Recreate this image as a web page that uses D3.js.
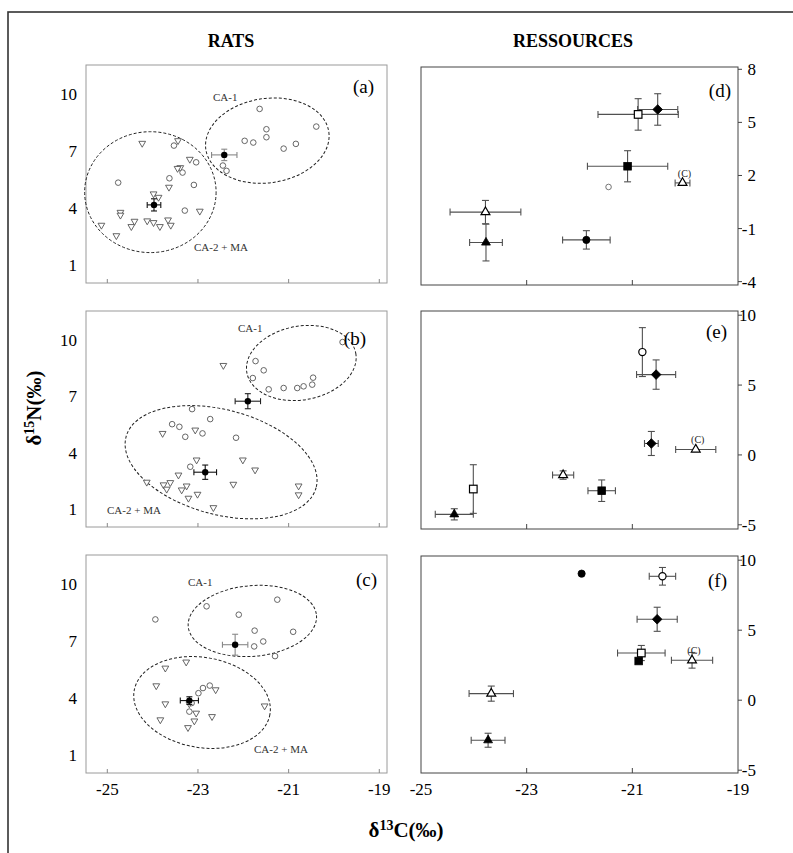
<!DOCTYPE html>
<html>
<head>
<meta charset="utf-8">
<script src="https://cdn.jsdelivr.net/npm/d3@7/dist/d3.min.js"></script>
<style>
  body { margin: 0; background: #fff; }
  svg, svg text { font-family: "Liberation Serif", "DejaVu Serif", "Times New Roman", serif; }
</style>
</head>
<body>
<svg id="chart" width="793" height="853" font-family="Liberation Serif, DejaVu Serif, serif"></svg>
<script>
'use strict';

// ---- data ----
// rats: [d13C, d15N]
const ratsA_circles = [[-24.76,5.33],[-23.53,7.28],[-23.63,5.56],[-23.34,5.86],[-23.04,6.40],[-23.09,5.21],[-23.29,3.86],
  [-22.45,6.23],[-22.37,5.95],[-21.97,7.53],[-21.78,7.44],[-21.64,9.21],[-21.49,8.14],[-21.49,7.72],[-21.11,7.12],[-20.84,7.37],[-20.39,8.28]];
const ratsA_triangles = [[-23.44,7.54],[-23.39,6.12],[-23.45,6.08],[-23.18,6.56],[-24.23,7.40],[-23.64,5.09],[-23.98,4.74],[-23.87,4.56],
  [-24.71,3.77],[-24.71,3.62],[-25.13,3.09],[-24.80,2.54],[-24.47,3.02],[-24.40,3.30],[-24.12,3.32],[-23.98,3.23],[-23.84,3.02],
  [-23.66,3.37],[-23.60,3.09],[-22.96,3.83]];
const ratsA_means = [{x: -22.42, y: 6.79, ex: 0.28, ey: 0.30}, {x: -23.97, y: 4.16, ex: 0.15, ey: 0.32}];

const ratsB_circles = [[-19.81,9.87],[-21.73,8.86],[-21.55,8.37],[-21.79,7.96],[-21.44,7.36],[-21.11,7.43],[-20.81,7.43],[-20.67,7.52],
  [-20.48,7.61],[-20.46,7.98],[-23.13,6.31],[-22.73,5.78],[-23.57,5.51],[-23.41,5.37],[-23.28,4.84],[-22.90,5.02],[-22.16,4.79],[-23.17,3.25]];
const ratsB_triangles = [[-22.44,8.63],[-23.78,5.02],[-23.06,5.20],[-23.03,3.61],[-22.01,3.61],[-21.74,3.08],[-23.43,2.81],[-24.13,2.43],
  [-23.76,2.29],[-23.69,2.06],[-23.61,2.41],[-23.36,2.02],[-23.25,2.23],[-23.21,1.58],[-23.01,1.79],[-22.66,1.08],[-22.22,2.32],
  [-20.78,2.23],[-20.78,1.76]];
const ratsB_means = [{x: -21.90, y: 6.73, ex: 0.28, ey: 0.40}, {x: -22.84, y: 2.96, ex: 0.25, ey: 0.38}];

const ratsC_circles = [[-23.94,8.13],[-22.81,8.82],[-22.10,8.38],[-21.25,9.17],[-21.75,7.54],[-20.90,7.48],[-21.56,6.97],[-21.76,6.71],
  [-21.30,6.20],[-22.74,4.65],[-22.89,4.52],[-22.99,4.25],[-23.19,3.28],[-23.14,3.73]];
const ratsC_triangles = [[-23.26,5.89],[-23.72,5.57],[-23.92,4.64],[-22.61,4.43],[-23.72,3.69],[-23.19,3.69],[-23.04,3.20],[-22.69,3.02],
  [-23.83,2.85],[-23.08,2.79],[-23.22,2.44],[-21.53,3.58]];
const ratsC_means = [{x: -22.18, y: 6.80, ex: 0.28, ey: 0.55}, {x: -23.19, y: 3.86, ex: 0.20, ey: 0.20}];

// group ellipses: centre and radii in data units, tilt in degrees
const ellipsesA = [{name: 'CA-1', cx: -21.47, cy: 7.54, rx: 1.37, ry: 2.22, tilt: -8}, {name: 'CA-2 + MA', cx: -24.05, cy: 4.83, rx: 1.45, ry: 3.18, tilt: 0}];
const ellipsesB = [{name: 'CA-1', cx: -20.72, cy: 8.76, rx: 1.22, ry: 1.96, tilt: -10}, {name: 'CA-2 + MA', cx: -22.49, cy: 3.49, rx: 2.17, ry: 2.78, tilt: 15}];
const ellipsesC = [{name: 'CA-1', cx: -21.80, cy: 8.05, rx: 1.42, ry: 1.86, tilt: -5}, {name: 'CA-2 + MA', cx: -22.91, cy: 3.76, rx: 1.52, ry: 2.37, tilt: 10}];

// resources: mean ± error
const resD = [
  {k: 'filledDiamond', x: -20.52, y: 5.73, ex: 0.38, ey: 0.89},
  {k: 'openSquare', x: -20.89, y: 5.45, ex: 0.76, ey: 0.89},
  {k: 'filledSquare', x: -21.09, y: 2.52, ex: 0.76, ey: 0.88},
  {k: 'smallCircle', x: -21.45, y: 1.35, ex: 0, ey: 0},
  {k: 'openTriangle', x: -20.05, y: 1.58, ex: 0.14, ey: 0, label: '(C)'},
  {k: 'openTriangle', x: -23.78, y: -0.07, ex: 0.67, ey: 0.66},
  {k: 'filledTriangle', x: -23.77, y: -1.79, ex: 0.31, ey: 1.04},
  {k: 'filledCircle', x: -21.87, y: -1.64, ex: 0.45, ey: 0.52}
];
const resE = [
  {k: 'openCircle', x: -20.81, y: 7.36, ex: 0, ey: 1.75},
  {k: 'filledDiamond', x: -20.55, y: 5.75, ex: 0.37, ey: 1.05},
  {k: 'filledDiamond', x: -20.64, y: 0.82, ex: 0.13, ey: 0.86},
  {k: 'openTriangle', x: -19.80, y: 0.39, ex: 0.38, ey: 0, label: '(C)'},
  {k: 'openTriangle', x: -22.31, y: -1.44, ex: 0.20, ey: 0.30},
  {k: 'filledSquare', x: -21.58, y: -2.56, ex: 0.26, ey: 0.77},
  {k: 'openSquare', x: -24.01, y: -2.44, ex: 0, ey: 1.74},
  {k: 'filledTriangle', x: -24.37, y: -4.25, ex: 0.36, ey: 0.40}
];
const resF = [
  {k: 'filledCircle', x: -21.96, y: 9.04, ex: 0, ey: 0},
  {k: 'openCircle', x: -20.43, y: 8.85, ex: 0.25, ey: 0.63},
  {k: 'filledDiamond', x: -20.53, y: 5.78, ex: 0.38, ey: 0.86},
  {k: 'openSquare', x: -20.83, y: 3.37, ex: 0.45, ey: 0.54},
  {k: 'filledSquare', x: -20.88, y: 2.80, ex: 0, ey: 0},
  {k: 'openTriangle', x: -19.87, y: 2.85, ex: 0.39, ey: 0.56, label: '(C)'},
  {k: 'openTriangle', x: -23.67, y: 0.47, ex: 0.42, ey: 0.54},
  {k: 'filledTriangle', x: -23.73, y: -2.86, ex: 0.32, ey: 0.50}
];

const xTicks = [-25, -23, -21, -19];
const ratYTicks = [1, 4, 7, 10];
const resYTicksD = [8, 5, 2, -1, -4];
const resYTicksEF = [10, 5, 0, -5];

// ---- drawing ----
const svg = d3.select('#chart');

svg.append('rect')
    .attr('x', 8).attr('y', 12)
    .attr('width', 800).attr('height', 860)
    .style('fill', 'none')
    .style('stroke', '#333')
    .style('stroke-width', 1.6);

svg.append('text').attr('x', 231).attr('y', 47).attr('text-anchor', 'middle')
    .style('font-weight', 'bold').style('font-size', '18px').text('RATS');
svg.append('text').attr('x', 573).attr('y', 47).attr('text-anchor', 'middle')
    .style('font-weight', 'bold').style('font-size', '18px').text('RESSOURCES');

const yLab = svg.append('text')
    .attr('transform', 'translate(41, 408) rotate(-90)')
    .attr('text-anchor', 'middle')
    .style('font-weight', 'bold').style('font-size', '21px');
yLab.append('tspan').text('δ');
yLab.append('tspan').attr('dy', -7).style('font-size', '14px').text('15');
yLab.append('tspan').attr('dy', 7).text('N(‰)');

const xLab = svg.append('text')
    .attr('x', 406).attr('y', 837)
    .attr('text-anchor', 'middle')
    .style('font-weight', 'bold').style('font-size', '21px');
xLab.append('tspan').text('δ');
xLab.append('tspan').attr('dy', -7).style('font-size', '14px').text('13');
xLab.append('tspan').attr('dy', 7).text('C(‰)');

const symTri = d3.symbol().type(d3.symbolTriangle);

function frame(g, x0, x1, y0, y1, color) {
  g.append('rect')
      .attr('x', x0).attr('y', y0)
      .attr('width', x1 - x0).attr('height', y1 - y0)
      .style('fill', 'none')
      .style('stroke', color)
      .style('stroke-width', 1);
}

function errorBars(g, list, x, y, color, cap) {
  list.forEach(d => {
    if (d.ex > 0) {
      g.append('line').attr('x1', x(d.x - d.ex)).attr('x2', x(d.x + d.ex)).attr('y1', y(d.y)).attr('y2', y(d.y));
      [d.x - d.ex, d.x + d.ex].forEach(v => g.append('line')
          .attr('x1', x(v)).attr('x2', x(v)).attr('y1', y(d.y) - cap).attr('y2', y(d.y) + cap));
    }
    if (d.ey > 0) {
      g.append('line').attr('x1', x(d.x)).attr('x2', x(d.x)).attr('y1', y(d.y - d.ey)).attr('y2', y(d.y + d.ey));
      [d.y - d.ey, d.y + d.ey].forEach(v => g.append('line')
          .attr('x1', x(d.x) - cap).attr('x2', x(d.x) + cap).attr('y1', y(v)).attr('y2', y(v)));
    }
  });
  g.selectAll('line').style('stroke', color).style('stroke-width', 1.1);
}

function ratPanel(p) {
  const g = svg.append('g');
  const x = d3.scaleLinear().domain([-25.47, -18.83]).range([86, 387]);
  const y = d3.scaleLinear().domain([0.05, 11.52]).range([p.y1, p.y0]);

  frame(g, 86, 387, p.y0, p.y1, '#9a9a9a');

  g.selectAll('.xt').data(xTicks).enter().append('line')
      .attr('x1', d => x(d)).attr('x2', d => x(d))
      .attr('y1', p.y1).attr('y2', p.y1 - 4)
      .style('stroke', '#888');

  g.selectAll('.yl').data(ratYTicks).enter().append('text')
      .attr('x', 77).attr('y', d => y(d) + 6)
      .attr('text-anchor', 'end')
      .style('font-size', '17px')
      .text(d => d);

  if (p.xLabels) {
    g.selectAll('.xl').data(xTicks).enter().append('text')
        .attr('x', d => x(d)).attr('y', p.y1 + 22)
        .attr('text-anchor', 'middle')
        .style('font-size', '17px')
        .text(d => d);
  }

  p.ellipses.forEach(e => {
    g.append('ellipse')
        .attr('cx', 0).attr('cy', 0)
        .attr('rx', x(e.cx + e.rx) - x(e.cx))
        .attr('ry', y(e.cy) - y(e.cy + e.ry))
        .attr('transform', `translate(${x(e.cx)}, ${y(e.cy)}) rotate(${e.tilt})`)
        .style('fill', 'none')
        .style('stroke', '#222')
        .style('stroke-width', 1)
        .style('stroke-dasharray', '3,2');
  });

  g.selectAll('.tri').data(p.triangles).enter().append('path')
      .attr('d', symTri.size(20)())
      .attr('transform', d => `translate(${x(d[0])}, ${y(d[1])}) rotate(180)`)
      .style('fill', '#fff')
      .style('stroke', '#555')
      .style('stroke-width', 0.9);

  g.selectAll('.circ').data(p.circles).enter().append('circle')
      .attr('cx', d => x(d[0])).attr('cy', d => y(d[1]))
      .attr('r', 2.8)
      .style('fill', '#fff')
      .style('stroke', '#555')
      .style('stroke-width', 0.9);

  p.means.forEach((m, i) => {
    errorBars(g.append('g'), [m], x, y, i === 0 ? p.ca1Color : '#111', 3);
    g.append('circle')
        .attr('cx', x(m.x)).attr('cy', y(m.y))
        .attr('r', 3.2)
        .style('fill', '#000');
  });

  p.labels.forEach(l => {
    g.append('text')
        .attr('x', l.x).attr('y', l.y)
        .style('font-size', '11px')
        .style('fill', '#333')
        .text(l.t);
  });

  g.append('text')
      .attr('x', p.tagX).attr('y', p.tagY)
      .attr('text-anchor', 'end')
      .style('font-size', '19px')
      .text(p.tag);
}

function resPanel(p) {
  const g = svg.append('g');
  const x = d3.scaleLinear().domain([-25, -19]).range([421, 738]);
  const y = d3.scaleLinear().domain(p.yDomain).range([p.y1, p.y0]);

  frame(g, 421, 738, p.y0, p.y1, '#444');

  g.selectAll('.xt').data([-23, -21]).enter().append('line')
      .attr('x1', d => x(d)).attr('x2', d => x(d))
      .attr('y1', p.y1).attr('y2', p.y1 - 5)
      .style('stroke', '#444');

  g.selectAll('.yt').data(p.yTicks).enter().append('line')
      .attr('x1', 738).attr('x2', 742)
      .attr('y1', d => y(d)).attr('y2', d => y(d))
      .style('stroke', '#444');

  g.selectAll('.yl').data(p.yTicks).enter().append('text')
      .attr('x', 756).attr('y', d => y(d) + 6)
      .attr('text-anchor', 'end')
      .style('font-size', '17px')
      .text(d => d);

  if (p.xLabels) {
    g.selectAll('.xl').data(xTicks).enter().append('text')
        .attr('x', d => x(d)).attr('y', p.y1 + 22)
        .attr('text-anchor', 'middle')
        .style('font-size', '17px')
        .text(d => d);
  }

  errorBars(g.append('g'), p.data, x, y, '#505050', 3.5);

  p.data.forEach(d => {
    const cx = x(d.x), cy = y(d.y);
    const open = d.k.startsWith('open');
    let m;
    if (d.k === 'smallCircle') {
      m = g.append('circle').attr('cx', cx).attr('cy', cy).attr('r', 2.8);
    } else if (d.k.endsWith('Circle')) {
      m = g.append('circle').attr('cx', cx).attr('cy', cy).attr('r', 3.6);
    } else if (d.k.endsWith('Square')) {
      m = g.append('rect').attr('x', cx - 3.8).attr('y', cy - 3.8).attr('width', 7.6).attr('height', 7.6);
    } else if (d.k.endsWith('Diamond')) {
      m = g.append('rect').attr('x', -3.4).attr('y', -3.4).attr('width', 6.8).attr('height', 6.8)
          .attr('transform', `translate(${cx}, ${cy}) rotate(45)`);
    } else {
      m = g.append('path').attr('d', symTri.size(34)())
          .attr('transform', `translate(${cx}, ${cy})`);
    }
    m.style('fill', open || d.k === 'smallCircle' ? '#fff' : '#000')
        .style('stroke', d.k === 'smallCircle' ? '#555' : '#000')
        .style('stroke-width', open ? 1.2 : 0.8);
    if (d.label) {
      g.append('text')
          .attr('x', cx + 2).attr('y', cy - 6)
          .attr('text-anchor', 'middle')
          .style('font-size', '10px')
          .style('fill', '#222')
          .text(d.label);
    }
  });

  g.append('text')
      .attr('x', p.tagX).attr('y', p.tagY)
      .attr('text-anchor', 'end')
      .style('font-size', '19px')
      .text(p.tag);
}

ratPanel({y0: 65, y1: 283, circles: ratsA_circles, triangles: ratsA_triangles, means: ratsA_means,
  ellipses: ellipsesA, ca1Color: '#888', tag: '(a)', tagX: 374, tagY: 93,
  labels: [{t: 'CA-1', x: 213, y: 101}, {t: 'CA-2 + MA', x: 194, y: 251}]});
ratPanel({y0: 311, y1: 527, circles: ratsB_circles, triangles: ratsB_triangles, means: ratsB_means,
  ellipses: ellipsesB, ca1Color: '#222', tag: '(b)', tagX: 366, tagY: 345,
  labels: [{t: 'CA-1', x: 238, y: 332}, {t: 'CA-2 + MA', x: 107, y: 514}]});
ratPanel({y0: 555, y1: 773, circles: ratsC_circles, triangles: ratsC_triangles, means: ratsC_means,
  ellipses: ellipsesC, ca1Color: '#888', tag: '(c)', tagX: 377, tagY: 586, xLabels: true,
  labels: [{t: 'CA-1', x: 188, y: 586}, {t: 'CA-2 + MA', x: 254, y: 753}]});

resPanel({y0: 67, y1: 285, yDomain: [-4.19, 8.13], yTicks: resYTicksD, data: resD, tag: '(d)', tagX: 731, tagY: 97});
resPanel({y0: 311, y1: 529, yDomain: [-5.3, 10.3], yTicks: resYTicksEF, data: resE, tag: '(e)', tagX: 727, tagY: 338});
resPanel({y0: 556, y1: 773, yDomain: [-5.2, 10.3], yTicks: resYTicksEF, data: resF, tag: '(f)', tagX: 727, tagY: 587, xLabels: true});
</script>
</body>
</html>
